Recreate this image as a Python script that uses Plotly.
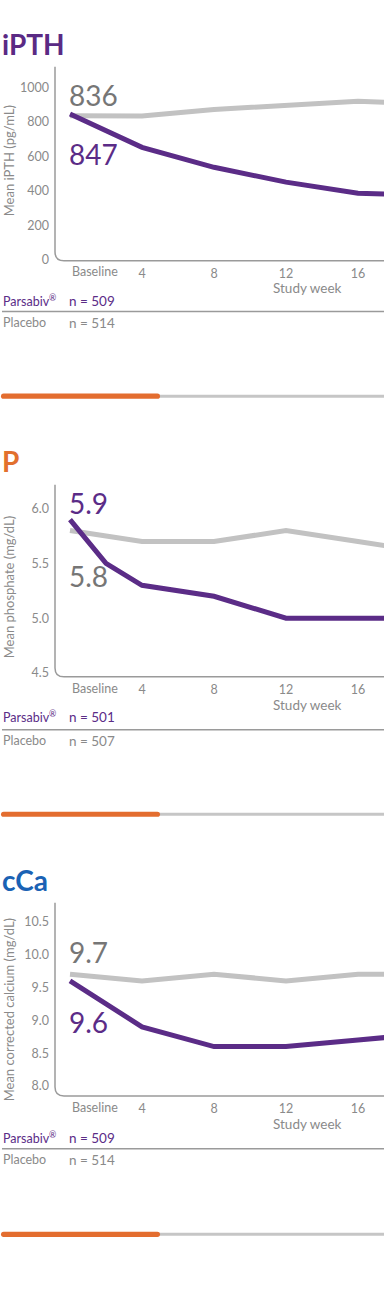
import plotly.graph_objects as go

# ---------------- data ----------------
weeks = [0, 4, 8, 12, 16, 20]
weeks_p_parsabiv = [0, 2, 4, 8, 12, 16, 20]

ipth_parsabiv = [847, 653, 537, 451, 387, 372]
ipth_placebo = [836, 835, 873, 896, 920, 905]

p_parsabiv = [5.9, 5.5, 5.3, 5.2, 5.0, 5.0, 5.0]
p_placebo = [5.8, 5.7, 5.7, 5.8, 5.7, 5.6]

cca_parsabiv = [9.6, 8.9, 8.6, 8.6, 8.7, 8.8]
cca_placebo = [9.7, 9.6, 9.7, 9.6, 9.7, 9.7]

x_tickvals = [4, 8, 12, 16]
x_ticktext = ["4", "8", "12", "16"]

ipth_ticks = [0, 200, 400, 600, 800, 1000]
p_ticks = [4.5, 5.0, 5.5, 6.0]
cca_ticks = [8.0, 8.5, 9.0, 9.5, 10.0, 10.5]

titles = ["iPTH", "P", "cCa"]
ytitles = ["Mean iPTH (pg/mL)", "Mean phosphate (mg/dL)", "Mean corrected calcium (mg/dL)"]
n_parsabiv = ["n = 509", "n = 501", "n = 509"]
n_placebo = ["n = 514", "n = 507", "n = 514"]
base_parsabiv = ["847", "5.9", "9.6"]
base_placebo = ["836", "5.8", "9.7"]

# ---------------- style / layout ----------------
W, H = 384, 1304
PURPLE = "#5b2c87"
GRAY_LINE = "#c2c2c2"
GRAY_TXT = "#8a8a8a"
GRAY_NUM = "#767676"
AXIS = "#9a9a9a"
TITLE_COLORS = ["#5a2a84", "#e2702e", "#1a62b4"]
FONT = "Lato"


def px(x):
    return x / W


def py(y):
    return 1 - y / H


# per panel pixel geometry
panels = [
    dict(title_y=44, ytop=67, ybot=262, cal=((0, 261), (1000, 88)), ytitle_y=162,
         num_plac_y=95, num_pars_y=155, xt_y=273, sw_y=289, row1=302, sep=313, row2=324, bar=398,
         fmt=lambda v: f"{v:g}"),
    dict(title_y=463, ytop=487, ybot=680, cal=((4.5, 676), (6.0, 511)), ytitle_y=590,
         num_plac_y=579, num_pars_y=505, xt_y=692, sw_y=708, row1=720, sep=733, row2=744, bar=818,
         fmt=lambda v: f"{v:.1f}"),
    dict(title_y=884, ytop=907, ybot=1101, cal=((8.0, 1091), (10.5, 926)), ytitle_y=1015,
         num_plac_y=956, num_pars_y=1027, xt_y=1113, sw_y=1129, row1=1143, sep=1154, row2=1165, bar=1240,
         fmt=lambda v: f"{v:.1f}"),
]

series = [
    (weeks, ipth_placebo, weeks, ipth_parsabiv, ipth_ticks),
    (weeks, p_placebo, weeks_p_parsabiv, p_parsabiv, p_ticks),
    (weeks, cca_placebo, weeks, cca_parsabiv, cca_ticks),
]

X0, X_PLOT_L, X_R = 70, 55, 384  # week 0 pixel, plot left, plot right
PX_PER_WEEK = 18
xrange = [(X_PLOT_L - X0) / PX_PER_WEEK, (X_R - X0) / PX_PER_WEEK]

fig = go.Figure()
shapes = []
annotations = []
layout_axes = {}

for i, (pan, (wx_pl, pl, wx_pa, pa, yt)) in enumerate(zip(panels, series)):
    k = "" if i == 0 else str(i + 1)
    xa, ya = "x" + k, "y" + k
    (v1, p1), (v2, p2) = pan["cal"]
    scale = (p1 - p2) / (v2 - v1)  # px per unit
    ymin = v1 - (pan["ybot"] - p1) / scale
    ymax = v1 + (p1 - pan["ytop"]) / scale

    fig.add_trace(go.Scatter(x=wx_pl, y=pl, mode="lines", xaxis=xa, yaxis=ya,
                             line=dict(color=GRAY_LINE, width=5), hoverinfo="skip", showlegend=False))
    fig.add_trace(go.Scatter(x=wx_pa, y=pa, mode="lines", xaxis=xa, yaxis=ya,
                             line=dict(color=PURPLE, width=5), hoverinfo="skip", showlegend=False))

    layout_axes["xaxis" + k] = dict(
        domain=[px(X_PLOT_L), 1], range=xrange, anchor=ya, showgrid=False, zeroline=False,
        showline=False, ticks="", tickvals=x_tickvals, ticktext=x_ticktext,
        tickfont=dict(family=FONT, size=12.5, color=GRAY_TXT), ticklabelstandoff=4,
        fixedrange=True)
    layout_axes["yaxis" + k] = dict(
        domain=[py(pan["ybot"]), py(pan["ytop"])], range=[ymin, ymax], anchor=xa,
        showgrid=False, zeroline=False, showline=False, ticks="",
        tickvals=yt, ticktext=[pan["fmt"](v) for v in yt],
        tickfont=dict(family=FONT, size=12.5, color=GRAY_TXT), ticklabelstandoff=5,
        fixedrange=True)

    # axis frame with rounded corner
    r = 9
    x0, yt_px, yb_px = X_PLOT_L, pan["ytop"], pan["ybot"]
    path = (f"M {px(x0)},{py(yt_px)} L {px(x0)},{py(yb_px - r)} "
            f"Q {px(x0)},{py(yb_px)} {px(x0 + r)},{py(yb_px)} L {px(X_R)},{py(yb_px)}")
    shapes.append(dict(type="path", xref="paper", yref="paper", path=path,
                       line=dict(color=AXIS, width=1.5)))

    # title
    annotations.append(dict(x=px(0), y=py(pan["title_y"]), xref="paper", yref="paper",
                            text=f"<b>{titles[i]}</b>", showarrow=False, xanchor="left", yanchor="middle",
                            font=dict(family=FONT, size=28, color=TITLE_COLORS[i])))
    # y title
    annotations.append(dict(x=px(9), y=py(pan["ytitle_y"]), xref="paper", yref="paper",
                            text=ytitles[i], showarrow=False, textangle=-90, xanchor="center", yanchor="middle",
                            font=dict(family=FONT, size=13, color=GRAY_TXT)))
    # baseline value labels
    annotations.append(dict(x=px(67), y=py(pan["num_plac_y"]), xref="paper", yref="paper",
                            text=base_placebo[i], showarrow=False, xanchor="left", yanchor="middle",
                            font=dict(family=FONT, size=28, color=GRAY_NUM)))
    annotations.append(dict(x=px(67), y=py(pan["num_pars_y"]), xref="paper", yref="paper",
                            text=base_parsabiv[i], showarrow=False, xanchor="left", yanchor="middle",
                            font=dict(family=FONT, size=28, color=PURPLE)))
    # Baseline tick label
    annotations.append(dict(x=0, y=py(pan["xt_y"]), xref=xa, yref="paper",
                            text="Baseline", showarrow=False, xanchor="left", yanchor="middle",
                            font=dict(family=FONT, size=12.5, color=GRAY_TXT)))
    # Study week
    annotations.append(dict(x=px(307), y=py(pan["sw_y"]), xref="paper", yref="paper",
                            text="Study week", showarrow=False, xanchor="center", yanchor="middle",
                            font=dict(family=FONT, size=13.5, color=GRAY_TXT)))
    # n rows
    annotations.append(dict(x=px(1), y=py(pan["row1"]), xref="paper", yref="paper",
                            text="Parsabiv<sup>®</sup>", showarrow=False, xanchor="left", yanchor="middle",
                            font=dict(family=FONT, size=12.5, color=PURPLE)))
    annotations.append(dict(x=px(67), y=py(pan["row1"]), xref="paper", yref="paper",
                            text=n_parsabiv[i], showarrow=False, xanchor="left", yanchor="middle",
                            font=dict(family=FONT, size=13.5, color=PURPLE)))
    annotations.append(dict(x=px(1), y=py(pan["row2"]), xref="paper", yref="paper",
                            text="Placebo", showarrow=False, xanchor="left", yanchor="middle",
                            font=dict(family=FONT, size=12.5, color=GRAY_TXT)))
    annotations.append(dict(x=px(67), y=py(pan["row2"]), xref="paper", yref="paper",
                            text=n_placebo[i], showarrow=False, xanchor="left", yanchor="middle",
                            font=dict(family=FONT, size=13.5, color=GRAY_TXT)))
    # separator
    shapes.append(dict(type="line", xref="paper", yref="paper", x0=px(2), x1=1,
                       y0=py(pan["sep"]), y1=py(pan["sep"]), line=dict(color=AXIS, width=1.5)))

    # progress bar: gray track + orange rounded segment
    by = pan["bar"]
    shapes.append(dict(type="rect", xref="paper", yref="paper", x0=px(155), x1=1,
                       y0=py(by + 1.5), y1=py(by - 1.5), fillcolor="#c6c6c6", line=dict(width=0)))
    bx0, bx1, hh = 1, 160, 2.6
    rr = hh
    bpath = (f"M {px(bx0 + rr)},{py(by - hh)} L {px(bx1 - rr)},{py(by - hh)} "
             f"Q {px(bx1)},{py(by - hh)} {px(bx1)},{py(by)} Q {px(bx1)},{py(by + hh)} {px(bx1 - rr)},{py(by + hh)} "
             f"L {px(bx0 + rr)},{py(by + hh)} Q {px(bx0)},{py(by + hh)} {px(bx0)},{py(by)} "
             f"Q {px(bx0)},{py(by - hh)} {px(bx0 + rr)},{py(by - hh)} Z")
    shapes.append(dict(type="path", xref="paper", yref="paper", path=bpath,
                       fillcolor="#e36d2f", line=dict(width=0)))

fig.update_layout(
    width=W, height=H, margin=dict(l=0, r=0, t=0, b=0),
    paper_bgcolor="white", plot_bgcolor="white",
    font=dict(family=FONT, color=GRAY_TXT),
    shapes=shapes, annotations=annotations, showlegend=False,
    **layout_axes,
)

fig.write_html("out.html", config={"displayModeBar": False},
               post_script="document.body.style.margin='0';document.body.style.overflow='hidden';")
